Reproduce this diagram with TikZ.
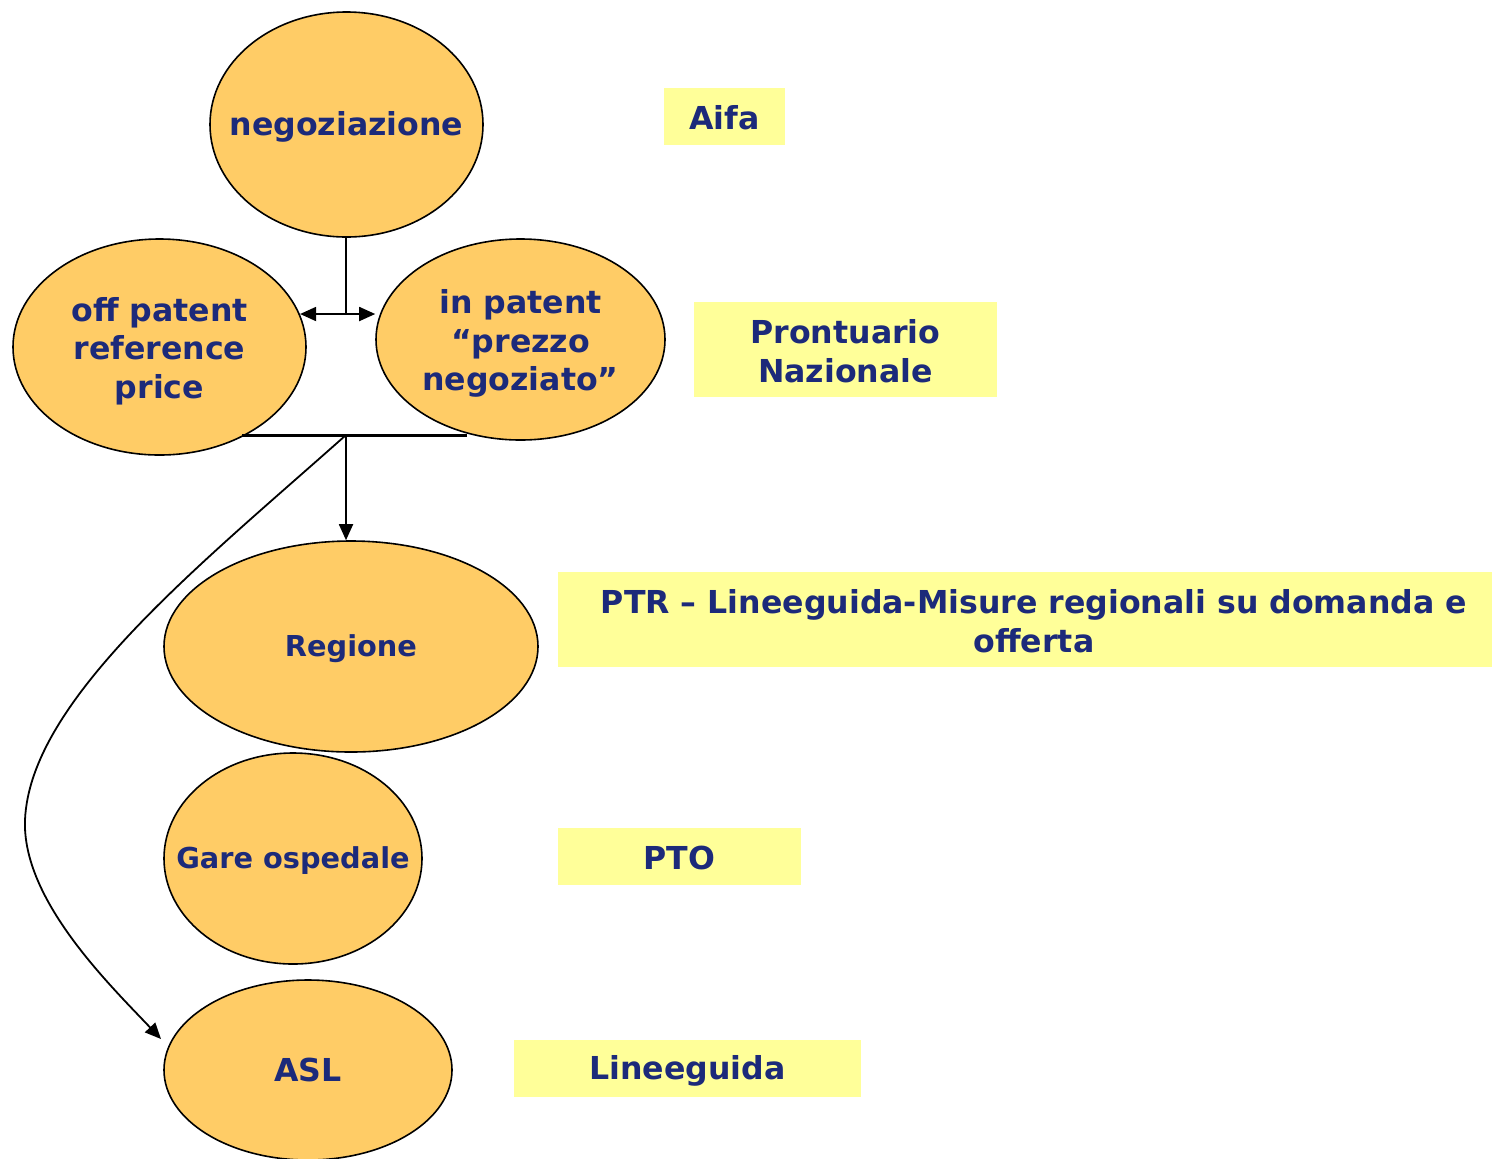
\documentclass[tikz,border=0pt]{standalone}
\usepackage{fontspec}
\setmainfont{DejaVu Sans}
\usetikzlibrary{shapes.geometric,arrows.meta}
\definecolor{ellfill}{RGB}{255,204,102}
\definecolor{boxfill}{RGB}{255,255,153}
\definecolor{txt}{RGB}{28,42,122}
\tikzset{
  ell/.style={ellipse,draw=black,line width=0.8pt,fill=ellfill,inner sep=0pt},
  lab/.style={text=txt,font=\fontsize{15.8}{19.3}\selectfont\bfseries,align=center,inner sep=0pt},
  one/.style={lab,text height=11.3pt,text depth=0pt},
  small/.style={one,font=\fontsize{14.4}{17.6}\selectfont\bfseries,text height=10.3pt},
  ybox/.style={fill=boxfill,inner sep=0pt},
  conn/.style={draw=black,line width=0.9pt},
  arr/.style={conn,-{Triangle[length=8pt,width=7pt]}},
}
\begin{document}
\begin{tikzpicture}[x=0.5pt,y=-0.5pt]
\useasboundingbox (0,0) rectangle (1492,1158);
% ellipses
\node[ell,minimum width=136.5pt,minimum height=112.5pt] (neg) at (346.5,124.5) {};
\node[one] (negt) at (neg.center) {negoziazione};
\node[ell,minimum width=146.5pt,minimum height=108pt] (off) at (159.5,347) {};
\node[lab,yshift=-2pt] (offt) at (off.center) {off patent\\reference\\price};
\node[ell,minimum width=144.5pt,minimum height=100.5pt] (inp) at (520.5,339.5) {};
\node[lab,yshift=-2pt] (inpt) at (inp.center) {in patent\\“prezzo\\negoziato”};
\node[ell,minimum width=187pt,minimum height=105.5pt] (reg) at (351,646.5) {};
\node[small] (regt) at (reg.center) {Regione};
\node[ell,minimum width=129pt,minimum height=105.5pt] (gare) at (293,858.5) {};
\node[small] (garet) at (gare.center) {Gare ospedale};
\node[ell,minimum width=144pt,minimum height=90pt] (asl) at (308,1070) {};
\node[one] (aslt) at (asl.center) {ASL};
% yellow boxes
\node[ybox,minimum width=60.5pt,minimum height=28.5pt] (aifa) at (724.5,116.5) {};
\node[one,yshift=-0.8pt] (aifat) at (aifa.center) {Aifa};
\node[ybox,minimum width=151.5pt,minimum height=47.5pt] (pron) at (845.5,349.5) {};
\node[lab,yshift=-0.8pt] (pront) at (pron.center) {Prontuario\\Nazionale};
\node[ybox,minimum width=467pt,minimum height=47.5pt] (ptr) at (1025,619.5) {};
\node[lab,yshift=-0.8pt] (ptrt) at ([xshift=4.5pt]ptr.center) {PTR – Lineeguida-Misure regionali su domanda e\\offerta};
\node[ybox,minimum width=121.5pt,minimum height=28.5pt] (pto) at (679.5,856.5) {};
\node[one,yshift=-0.8pt] (ptot) at (pto.center) {PTO};
\node[ybox,minimum width=173.5pt,minimum height=28.5pt] (lin) at (687.5,1068.5) {};
\node[one] (lint) at (lin.center) {Lineeguida};
% connectors
\coordinate (j1) at (346,314);
\coordinate (j2) at (346,435);
\coordinate (b1) at (242,435);
\coordinate (b2) at (467,435);
\coordinate (aslin) at (161,1039);
\draw[conn] (neg.south -| j1) -- (j1);
\draw[arr] (j1) -- (j1 -| off.13);
\draw[arr] (j1) -- (j1 -| inp.west);
\draw[draw=black,line width=1.5pt] (b1) -- (b2);
\draw[arr] (j2) -- (reg.north -| j2);
\draw[arr] (j2) .. controls (200,565) and (30,700) .. (25,820)
  .. controls (22,900) and (110,985) .. (aslin);
\end{tikzpicture}
\end{document}
